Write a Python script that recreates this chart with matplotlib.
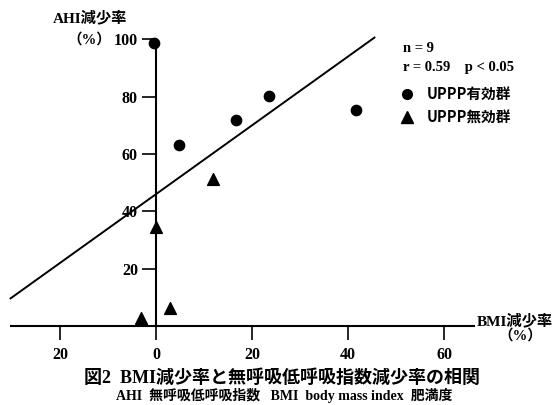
import numpy as np
import matplotlib
matplotlib.use("Agg")
import matplotlib.pyplot as plt
from matplotlib.lines import Line2D

plt.rcParams['font.family'] = ['Liberation Serif', 'Noto Sans CJK JP']

# UPPP effective group (circles)
eff_x = [-0.4, 4.8, 16.7, 23.6, 41.6]
eff_y = [98.6, 63.2, 72.0, 80.3, 75.3]
# UPPP ineffective group (triangles)
ineff_x = [-3.1, 0.0, 2.9, 11.9]
ineff_y = [2.9, 34.4, 6.4, 51.3]

# regression line
slope, intercept = 1.2, 46.0
line_x = [-30.3, 45.5]

xticks = [-20, 0, 20, 40, 60]
xtick_labels = ['20', '0', '20', '40', '60']
yticks = [20, 40, 60, 80, 100]

W, H = 559, 405
fig = plt.figure(figsize=(W / 100, H / 100), dpi=100)

# axes placed so that data (0,0) sits where the reference has it
left_px, right_px = 10.6, 473.8
top_px, bottom_px = 39.3, 326.0
ax = fig.add_axes([left_px / W, (H - bottom_px) / H,
                   (right_px - left_px) / W, (bottom_px - top_px) / H])
ax.set_xlim(-30.3, 66.2)
ax.set_ylim(0, 100)

for s in ['top', 'right']:
    ax.spines[s].set_visible(False)
ax.spines['left'].set_position(('data', 0))
ax.spines['bottom'].set_position(('data', 0))
ax.spines['left'].set_linewidth(1.5)
ax.spines['bottom'].set_linewidth(1.5)

ax.set_xticks(xticks)
ax.set_xticklabels(xtick_labels)
ax.set_yticks(yticks)
ax.tick_params(axis='both', direction='out', length=10, width=1.2,
               labelsize=11.5)
ax.tick_params(axis='x', pad=5)
ax.tick_params(axis='y', pad=3)
for lab in ax.get_xticklabels() + ax.get_yticklabels():
    lab.set_fontweight('bold')

lx = np.array(line_x)
ax.plot(lx, intercept + slope * lx, color='black', lw=1.4, clip_on=False)

ax.scatter(eff_x, eff_y, s=55, marker='o', color='black', clip_on=False,
           zorder=3)
ax.scatter(ineff_x, ineff_y, s=72, marker='^', color='black', clip_on=False,
           zorder=3)

# axis titles
fig.text(53 / W, 1 - 18 / H, 'AHI減少率', fontsize=11, fontweight='bold',
         ha='left', va='center')
fig.text(111 / W, 1 - 40 / H, '（%）', fontsize=10.5, fontweight='bold',
         ha='right', va='center')
fig.text(477 / W, 1 - 321 / H, 'BMI減少率', fontsize=11, fontweight='bold',
         ha='left', va='center')
fig.text(520 / W, 1 - 336 / H, '（%）', fontsize=10.5, fontweight='bold',
         ha='center', va='center')

# statistics
fig.text(403 / W, 1 - 48 / H, 'n = 9', fontsize=10.5, fontweight='bold',
         ha='left', va='center')
fig.text(403 / W, 1 - 67 / H, 'r = 0.59    p < 0.05', fontsize=10.5,
         fontweight='bold', ha='left', va='center')

handles = [
    Line2D([], [], marker='o', color='black', linestyle='none', markersize=7),
    Line2D([], [], marker='^', color='black', linestyle='none', markersize=8),
]
leg = fig.legend(handles, ['UPPP有効群', 'UPPP無効群'], loc='upper left',
                 bbox_to_anchor=(400 / W, 1 - 86 / H), frameon=False,
                 borderpad=0, borderaxespad=0, handlelength=1.0,
                 handletextpad=0.8, labelspacing=0.5,
                 prop={'family': ['Noto Sans CJK JP'], 'weight': 'bold',
                       'size': 10.5})

fig.text(282 / W, 1 - 378 / H, '図2  BMI減少率と無呼吸低呼吸指数減少率の相関',
         fontsize=13, fontweight='bold', ha='center', va='center')
fig.text(284 / W, 1 - 395 / H, 'AHI  無呼吸低呼吸指数   BMI  body mass index  肥満度',
         fontsize=10, fontweight='bold', ha='center', va='center')

fig.savefig('out.png', dpi=100)
